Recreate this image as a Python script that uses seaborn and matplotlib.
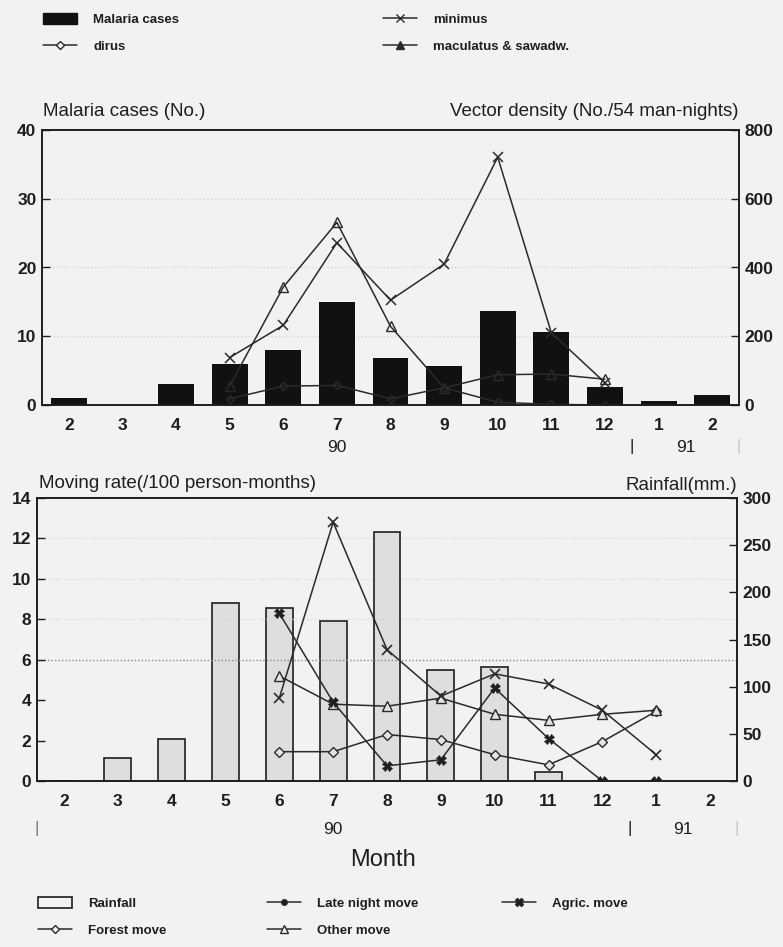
import numpy as np
import matplotlib
matplotlib.use("Agg")
import matplotlib.pyplot as plt
import matplotlib.transforms as mtransforms
from matplotlib.lines import Line2D
from matplotlib.patches import Patch
import seaborn as sns

nan = np.nan

# Months from Feb 1990 to Feb 1991
months = ["2", "3", "4", "5", "6", "7", "8", "9", "10", "11", "12", "1", "2"]
pos = np.arange(len(months))

# Upper panel: malaria cases (left axis) and vector density (right axis)
malaria_cases = [1, 0, 3, 6, 8, 15, 6.8, 5.7, 13.7, 10.6, 2.6, 0.6, 1.5]
minimus = [nan, nan, nan, 138, 232, 472, 305, 410, 721, 210, 65, nan, nan]
dirus = [nan, nan, nan, 18, 55, 57, 18, 50, 8, 2, 0, nan, nan]
maculatus_sawadw = [nan, nan, nan, 55, 343, 531, 229, 50, 88, 90, 75, nan, nan]

# Lower panel: rainfall (right axis) and moving rates (left axis)
rainfall = [0, 24, 45, 189, 183, 170, 264, 118, 121, 10, nan, nan, nan]
late_night_move = [nan, nan, nan, nan, 8.3, 3.9, 0.75, 1.05, 4.6, 2.1, 0, 0, nan]
agric_move = [nan, nan, nan, nan, 4.1, 12.8, 6.5, 4.2, 5.3, 4.8, 3.5, 1.3, nan]
forest_move = [nan, nan, nan, nan, 1.45, 1.45, 2.3, 2.05, 1.3, 0.8, 1.95, 3.45, nan]
other_move = [nan, nan, nan, nan, 5.2, 3.8, 3.7, 4.1, 3.3, 3.0, 3.3, 3.5, nan]

BG = "#f2f2f2"
INK = "#1e1e1e"
LINE = "#2a2a2a"

sns.set_style("white")
plt.rcParams["font.family"] = ["Liberation Sans", "DejaVu Sans"]
plt.rcParams["axes.facecolor"] = BG
plt.rcParams["figure.facecolor"] = BG

W, H = 783, 947
fig = plt.figure(figsize=(W / 100, H / 100), dpi=100)


def fx(px):
    return px / W


def fy(py):
    return 1 - py / H


def axes_rect(left, top, right, bottom):
    return [fx(left), fy(bottom), fx(right) - fx(left), fy(top) - fy(bottom)]


ax1 = fig.add_axes(axes_rect(42, 130, 739, 405))
ax2 = fig.add_axes(axes_rect(37, 498, 737, 781))

TICK_FONT = dict(fontsize=12.5, fontweight="bold", color=INK)
TITLE_FONT = dict(fontsize=13.5, color=INK)

# ---------- upper panel ----------
sns.barplot(x=pos, y=malaria_cases, native_scale=True, width=0.67,
            color="#111111", saturation=1, errorbar=None, ax=ax1,
            linewidth=0)
ax1.set_ylim(0, 40)
ax1.set_yticks(range(0, 41, 10))
for yv in (10, 20, 30):
    ax1.axhline(yv, color="#cfcfcf", lw=0.9, ls=(0, (1, 2)), zorder=0)

ax1r = ax1.twinx()
line_kw = dict(color=LINE, lw=1.1, mec=LINE, ax=ax1r)
sns.lineplot(x=pos, y=dirus, marker="D", markersize=4.5, mfc="none",
             mew=1, **line_kw)
sns.lineplot(x=pos, y=minimus, marker="x", markersize=7, mew=1.1, **line_kw)
sns.lineplot(x=pos, y=maculatus_sawadw, marker="^", markersize=7,
             mfc="none", mew=1, **line_kw)
ax1r.set_ylim(0, 800)
ax1r.set_yticks(range(0, 801, 200))

# ---------- lower panel ----------
ax2r = ax2.twinx()
sns.barplot(x=pos, y=rainfall, native_scale=True, width=0.5,
            color="#dedede", saturation=1, errorbar=None, ax=ax2r,
            edgecolor=INK, linewidth=1.2)
ax2r.set_ylim(0, 300)
ax2r.set_yticks(range(0, 301, 50))

ax2.set_zorder(ax2r.get_zorder() + 1)
ax2.patch.set_visible(False)
ax2r.patch.set_facecolor(BG)

line_kw2 = dict(color=LINE, lw=1.1, mec=LINE, ax=ax2)
sns.lineplot(x=pos, y=forest_move, marker="D", markersize=5, mfc="#e4e4e4",
             mew=1, **line_kw2)
sns.lineplot(x=pos, y=other_move, marker="^", markersize=7, mfc="#e4e4e4",
             mew=1, **line_kw2)
sns.lineplot(x=pos, y=agric_move, marker="x", markersize=7, mew=1.2,
             **line_kw2)
sns.lineplot(x=pos, y=late_night_move, marker="X", markersize=6.5,
             mfc=INK, mew=0.5, **line_kw2)
ax2.set_ylim(0, 14)
ax2.set_yticks(range(0, 15, 2))
ax2.axhline(6, color="#8a8a8a", lw=1.0, ls=(0, (1, 1.5)), zorder=0)
for yv in (8, 10, 12):
    ax2.axhline(yv, color="#d2d2d2", lw=0.9, ls=(0, (1, 2)), zorder=0)

# ---------- shared axis styling ----------
for ax in (ax1, ax1r, ax2, ax2r):
    ax.set_xlim(-0.5, 12.5)
    ax.set_xlabel("")
    ax.set_ylabel("")
    for sp in ax.spines.values():
        sp.set_visible(True)
        sp.set_color(INK)
        sp.set_linewidth(1.2)
    ax.tick_params(axis="y", direction="in", length=6, width=1,
                   colors=INK, labelsize=12.5, pad=4)
    for lab in ax.get_yticklabels():
        lab.set_fontweight("bold")

for ax in (ax1, ax2):
    ax.set_xticks(pos)
    ax.set_xticklabels(months, **TICK_FONT)
    ax.tick_params(axis="x", direction="out", length=4, width=1,
                   colors=INK, pad=5)
for ax in (ax1r, ax2r):
    ax.tick_params(axis="x", bottom=False, labelbottom=False)

# axis titles
fig.text(fx(43), fy(112), "Malaria cases (No.)", ha="left", va="center",
         **TITLE_FONT)
fig.text(fx(738), fy(112), "Vector density (No./54 man-nights)", ha="right",
         va="center", **TITLE_FONT)
fig.text(fx(39), fy(483), "Moving rate(/100 person-months)", ha="left",
         va="center", **TITLE_FONT)
fig.text(fx(737), fy(485), "Rainfall(mm.)", ha="right", va="center",
         **TITLE_FONT)

# year markers under the month ticks
YEAR_FONT = dict(fontsize=12.5, color=INK, ha="center", va="center")


def year_row(ax, ypx, ax_bottom_px, ax_height_px, items):
    tr = mtransforms.blended_transform_factory(ax.transData, ax.transAxes)
    yf = (ax_bottom_px - ypx) / ax_height_px
    for xv, txt, col in items:
        ax.text(xv, yf, txt, transform=tr, clip_on=False,
                **{**YEAR_FONT, "color": col})


year_row(ax1, 447, 405, 275, [(5, "90", INK), (10.5, "|", INK),
                              (11.5, "91", INK), (12.5, "|", "#c8c8c8")])
year_row(ax2, 829, 781, 283, [(-0.5, "|", "#777777"), (5, "90", INK),
                              (10.5, "|", INK), (11.5, "91", INK),
                              (12.5, "|", "#c8c8c8")])

fig.text(fx(383), fy(860), "Month", ha="center", va="center", fontsize=17,
         color=INK)

# ---------- legends ----------
LEG_FONT = dict(size=9.5, weight="bold")


def h_line(marker, ms=6, mfc=BG):
    return Line2D([0], [0], color=LINE, lw=1.1, marker=marker, markersize=ms,
                  mfc=mfc, mec=LINE, mew=1)


def put_legend(handles, labels, x_px, y_px):
    leg = fig.legend(handles, labels, loc="upper left",
                     bbox_to_anchor=(fx(x_px), fy(y_px)), frameon=False,
                     prop=LEG_FONT, handlelength=2.6, handleheight=0.9,
                     handletextpad=1.2, labelspacing=1.05, borderpad=0,
                     borderaxespad=0)
    for t in leg.get_texts():
        t.set_color(INK)
    return leg


put_legend([Patch(facecolor="#111111", edgecolor="#111111"),
            h_line("D", ms=4.5)],
           ["Malaria cases", "dirus"], 43, 13)
put_legend([h_line("x", ms=6), h_line("^", ms=6, mfc=LINE)],
           ["minimus", "maculatus & sawadw."], 383, 13)

put_legend([Patch(facecolor=BG, edgecolor=INK, linewidth=1.2),
            h_line("D", ms=4.5)],
           ["Rainfall", "Forest move"], 38, 897)
put_legend([h_line("o", ms=4, mfc=INK), h_line("^", ms=6)],
           ["Late night move", "Other move"], 267, 897)
put_legend([h_line("X", ms=6, mfc=INK)], ["Agric. move"], 502, 897)

fig.savefig("out.png", dpi=100, facecolor=BG)
